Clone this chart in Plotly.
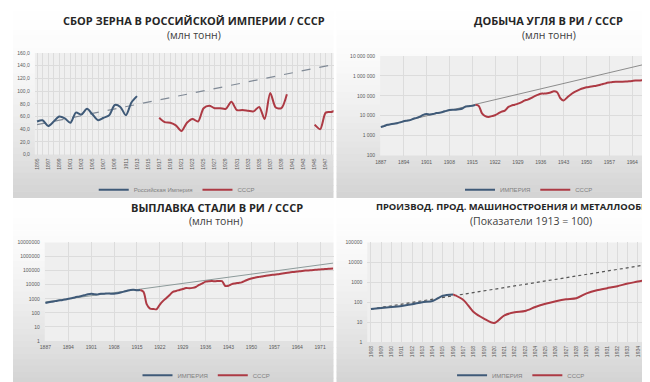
import plotly.graph_objects as go

W, H = 650, 382

# ---------------- DATA ----------------
# Panel 1: grain harvest (mln t)
grain_emp_years = list(range(1895, 1914))
grain_emp = [52, 54, 45, 52, 60, 57, 50, 66, 63, 72, 63, 54, 58, 62, 78, 75, 62, 82, 92]
grain_ussr_years = list(range(1917, 1950))
grain_ussr = [58, 51, 50, 46, 37, 50, 56, 52, 73, 77, 73, 73, 72, 83, 70, 70, 69, 68, 75, 56, 97, 74, 73, 95,
              None, None, None, None, 47, 40, 66, 67, 70]
grain_trend_years = [1895, 1949]
grain_trend = [47, 143]
grain_xticks = list(range(1895, 1949, 2))
grain_yticks = [0, 20, 40, 60, 80, 100, 120, 140, 160]
grain_ytext = ["0,0", "20,0", "40,0", "60,0", "80,0", "100,0", "120,0", "140,0", "160,0"]

# Panel 2: coal output
coal_emp_years = list(range(1887, 1917))
coal_emp = [2700, 3000, 3500, 3700, 3900, 4200, 4600, 5200, 5600, 6000, 7000, 7800, 9000, 11000, 12000,
            11500, 12000, 13500, 14000, 15500, 17500, 19500, 20000, 20000, 21000, 23000, 29000, 30000, 31000, 35000]
coal_ussr_years = list(range(1916, 1973))
coal_ussr = [35000, 31000, 13000, 9500, 8700, 9500, 10500, 13000, 16000, 18000, 27000, 32000, 35500, 40000,
             47000, 57000, 64000, 76000, 94000, 110000, 127000, 128000, 133000, 146000, 166000, 151000, 75000,
             58000, 80000, 110000, 145000, 175000, 210000, 240000, 265000, 282000, 300000, 320000, 347000,
             390000, 429000, 463000, 496000, 507000, 510000, 510000, 517000, 532000, 554000, 578000, 585000,
             595000, 594000, 608000, 624000, 641000, 655000]
coal_trend_years = [1887, 1972]
coal_trend = [2800, 5500000]
coal_xticks = [1887, 1894, 1901, 1908, 1915, 1922, 1929, 1936, 1943, 1950, 1957, 1964, 1971]
coal_yticks = [100, 1000, 10000, 100000, 1000000, 10000000]
coal_ytext = ["100", "1 000", "10 000", "100 000", "1 000 000", "10 000 000"]

# Panel 3: steel output
steel_emp_years = list(range(1887, 1917))
steel_emp = [500, 560, 620, 680, 750, 800, 880, 1000, 1100, 1250, 1400, 1550, 1800, 2100, 2300, 2100, 2050,
             2300, 2300, 2400, 2300, 2300, 2500, 2800, 3200, 3700, 4200, 4300, 4000, 4200]
steel_ussr_years = list(range(1916, 1976))
steel_ussr = [4200, 3100, 400, 200, 190, 180, 390, 710, 1140, 1870, 3140, 3590, 4250, 4900, 5760, 5620, 5930,
              6890, 9690, 12590, 16400, 17730, 18060, 17560, 18320, 17900, 8070, 8480, 10890, 12250, 13350,
              14530, 18640, 23290, 27330, 31350, 34490, 38130, 41430, 45270, 48700, 51180, 54920, 59970, 65290,
              70750, 76310, 80230, 85040, 91000, 96900, 102200, 106500, 110300, 115900, 120700, 125600,
              131500, 136200, 141300]
steel_trend_years = [1887, 1975]
steel_trend = [600, 340000]
steel_xticks = [1887, 1894, 1901, 1908, 1915, 1922, 1929, 1936, 1943, 1950, 1957, 1964, 1971]
steel_yticks = [1, 10, 100, 1000, 10000, 100000, 1000000, 10000000]
steel_ytext = ["1", "10", "100", "1000", "10000", "100000", "1000000", "10000000"]

# Panel 4: machine-building index (1913 = 100)
mach_emp_years = list(range(1908, 1917))
mach_emp = [46, 51, 57, 65, 78, 100, 115, 210, 245]
mach_ussr_years = list(range(1916, 1937))
mach_ussr = [245, 130, 32, 15, 9, 22, 31, 36, 57, 83, 112, 140, 157, 277, 400, 505, 635, 860, 1080, 1400, 1750]
mach_trend_years = [1908, 1936]
mach_trend = [45, 9500]
mach_xticks = list(range(1908, 1936))
mach_yticks = [1, 10, 100, 1000, 10000, 100000]
mach_ytext = ["1", "10", "100", "1000", "10000", "100000"]

# ---------------- STYLE ----------------
BLUE = "#3f5a78"
RED = "#ad3a44"
GRID = "#dcdcdc"
PLOTBG = "#efefef"
TICKC = "#595959"
FONT = "Liberation Sans"


def px(x):
    return x / W


def py(y):
    return 1 - y / H


fig = go.Figure()
shapes = []

# panel backgrounds (vertical gradient by bands)
panels = [(0, 0, 323, 191), (326, 0, 650, 191), (0, 193, 323, 382), (326, 193, 650, 382)]
NB = 30
for (x0, y0, x1, y1) in panels:
    h = (y1 - y0) / NB
    for i in range(NB):
        t = (i + 0.5) / NB
        c = int(255 - 44 * t ** 1.6)
        shapes.append(dict(type="rect", xref="paper", yref="paper", layer="below",
                           x0=px(x0), x1=px(x1), y0=py(y0 + i * h), y1=py(y0 + (i + 1) * h + 0.6),
                           fillcolor=f"rgb({c},{c},{c})", line=dict(width=0)))

# plot areas
areas = {
    1: (22, 43, 323, 147),
    2: (370, 46, 650, 148),
    3: (32, 237, 323, 338),
    4: (357, 237, 650, 339),
}
for k, (x0, y0, x1, y1) in areas.items():
    shapes.append(dict(type="rect", xref="paper", yref="paper", layer="below",
                       x0=px(x0), x1=px(x1), y0=py(y1), y1=py(y0),
                       fillcolor=PLOTBG, line=dict(width=0)))


def add_panel(k, ey, ev, uy, uv, ty, tv, emp_name, trend_style, legend):
    xa = "x" if k == 1 else f"x{k}"
    ya = "y" if k == 1 else f"y{k}"
    fig.add_trace(go.Scatter(x=ty, y=tv, mode="lines", xaxis=xa, yaxis=ya, showlegend=False,
                             line=trend_style, hoverinfo="skip"))
    fig.add_trace(go.Scatter(x=ey, y=ev, mode="lines", name=emp_name, xaxis=xa, yaxis=ya,
                             line=dict(color=BLUE, width=2, shape="spline", smoothing=0.8), legend=legend))
    fig.add_trace(go.Scatter(x=uy, y=uv, mode="lines", name="СССР", xaxis=xa, yaxis=ya, connectgaps=False,
                             line=dict(color=RED, width=2, shape="spline", smoothing=0.8), legend=legend))


add_panel(1, grain_emp_years, grain_emp, grain_ussr_years, grain_ussr, grain_trend_years, grain_trend,
          "Российская Империя", dict(color="#808a96", width=1.2, dash="dash"), "legend")
add_panel(2, coal_emp_years, coal_emp, coal_ussr_years, coal_ussr, coal_trend_years, coal_trend,
          "ИМПЕРИЯ", dict(color="#8c8c8c", width=1), "legend2")
add_panel(3, steel_emp_years, steel_emp, steel_ussr_years, steel_ussr, steel_trend_years, steel_trend,
          "ИМПЕРИЯ", dict(color="#8c9a9a", width=1), "legend3")
add_panel(4, mach_emp_years, mach_emp, mach_ussr_years, mach_ussr, mach_trend_years, mach_trend,
          "ИМПЕРИЯ", dict(color="#555555", width=1.2, dash="dot"), "legend4")

tickfont = dict(family=FONT, size=5, color=TICKC)


def dom_x(k):
    x0, y0, x1, y1 = areas[k]
    return [px(x0), px(x1)]


def dom_y(k):
    x0, y0, x1, y1 = areas[k]
    return [py(y1), py(y0)]


common_y = dict(tickfont=tickfont, gridcolor=GRID, gridwidth=0.7, ticks="", ticklabelstandoff=4)
common_x = dict(tickfont=tickfont, showgrid=True, gridcolor=GRID, gridwidth=0.7, zeroline=False, ticks="",
                ticklabelstandoff=2)

layout = dict(
    width=W, height=H, margin=dict(l=0, r=0, t=0, b=0),
    paper_bgcolor="white", plot_bgcolor="rgba(0,0,0,0)",
    font=dict(family=FONT, color=TICKC),
    shapes=shapes,
    xaxis=dict(domain=dom_x(1), anchor="y", range=[1894.6, 1948.4], tickvals=grain_xticks, tickangle=-90,
               minor=dict(dtick=1, showgrid=True, gridcolor=GRID, gridwidth=0.7), **common_x),
    yaxis=dict(domain=dom_y(1), anchor="x", range=[0, 160], tickvals=grain_yticks, ticktext=grain_ytext,
               zeroline=False, **common_y),
    xaxis2=dict(domain=dom_x(2), anchor="y2", range=[1886.8, 1971.9], tickvals=coal_xticks, tickangle=0,
                **common_x),
    yaxis2=dict(domain=dom_y(2), anchor="x2", type="log", range=[2, 7], tickvals=coal_yticks,
                ticktext=coal_ytext, **common_y),
    xaxis3=dict(domain=dom_x(3), anchor="y3", range=[1886.8, 1975.1], tickvals=steel_xticks, tickangle=0,
                **common_x),
    yaxis3=dict(domain=dom_y(3), anchor="x3", type="log", range=[0, 7], tickvals=steel_yticks,
                ticktext=steel_ytext, **common_y),
    xaxis4=dict(domain=dom_x(4), anchor="y4", range=[1907.64, 1935.95], tickvals=mach_xticks, tickangle=-90,
                **common_x),
    yaxis4=dict(domain=dom_y(4), anchor="x4", type="log", range=[0, 5], tickvals=mach_yticks,
                ticktext=mach_ytext, **common_y),
)

legfont = dict(family=FONT, size=6, color="#7f7f7f")
for name, cx, cy in [("legend", 165, 183), ("legend2", 520, 183), ("legend3", 195, 373), ("legend4", 512, 373)]:
    layout[name] = dict(x=px(cx), y=py(cy), xanchor="center", yanchor="middle", orientation="h",
                        font=legfont, bgcolor="rgba(0,0,0,0)", itemwidth=30, tracegroupgap=0)

fig.update_layout(**layout)

TF = "Open Sans"
titles = [
    ("<b>СБОР ЗЕРНА В РОССИЙСКОЙ ИМПЕРИИ / СССР</b>", 182, 10, "center", 11),
    ("(млн тонн)", 182, 25, "center", 10.5),
    ("<b>ДОБЫЧА УГЛЯ В РИ / СССР</b>", 540, 10, "center", 11),
    ("(млн тонн)", 540, 25, "center", 10.5),
    ("<b>ВЫПЛАВКА СТАЛИ В РИ / СССР</b>", 206, 201, "center", 11),
    ("(млн тонн)", 205, 215, "center", 10.5),
    ("<b>ПРОИЗВОД. ПРОД. МАШИНОСТРОЕНИЯ И МЕТАЛЛООБР</b>", 641, 200, "right", 9.4),
    ("(Показатели 1913 = 100)", 522, 215, "center", 10.5),
]
for txt, x, y, anc, sz in titles:
    bold = txt.startswith("<b>")
    fig.add_annotation(text=txt, x=px(x), y=py(y), xref="paper", yref="paper", xanchor=anc,
                       yanchor="middle", showarrow=False,
                       font=dict(family=TF, size=sz, color="#262626" if bold else "#404040"))

fig.write_html("out.html")
